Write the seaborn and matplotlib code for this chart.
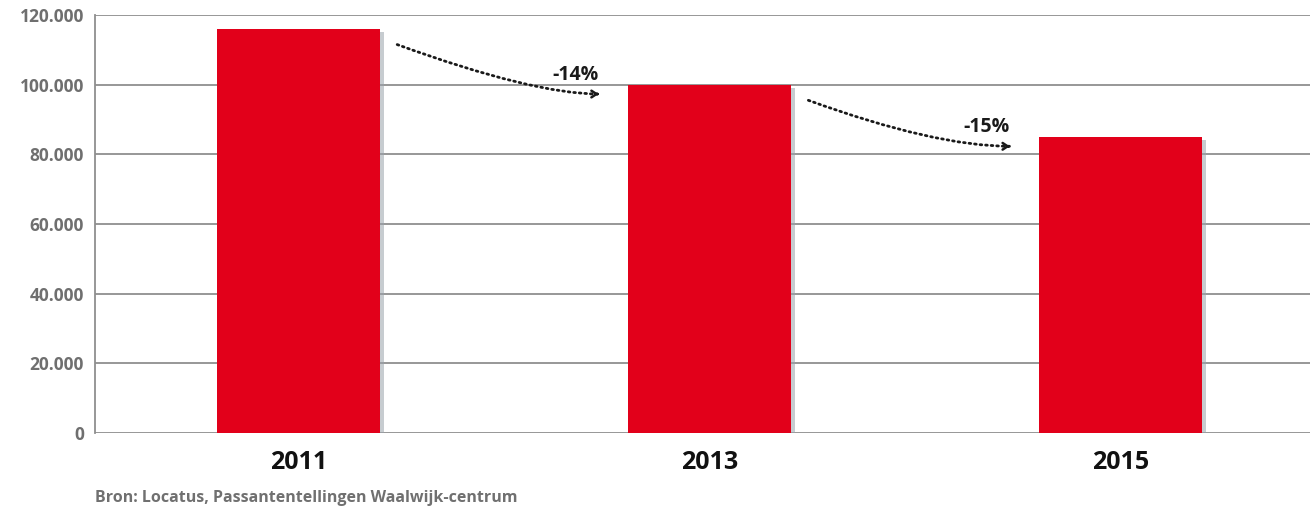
import matplotlib
matplotlib.use("Agg")
import matplotlib.pyplot as plt
import matplotlib.patheffects as pe
from matplotlib.ticker import FuncFormatter
import seaborn as sns
import pandas as pd

# Passantentellingen Waalwijk-centrum
years = ["2011", "2013", "2015"]
visitors = [116000, 100000, 85000]
y_ticks = [0, 20000, 40000, 60000, 80000, 100000, 120000]
source = "Bron: Locatus, Passantentellingen Waalwijk-centrum"

RED = "#E2001A"
GRID = "#8f8f8f"
TICK_GREY = "#6f6f6f"

sns.set_theme(style="white")
plt.rcParams["font.family"] = ["Open Sans", "DejaVu Sans"]

df = pd.DataFrame({"jaar": years, "passanten": visitors})

fig = plt.figure(figsize=(13.1, 5.07), dpi=100)
ax = fig.add_axes([0.0725, 0.146, 0.9275, 0.8245])

sns.barplot(data=df, x="jaar", y="passanten", color=RED, saturation=1,
            width=0.397, linewidth=0, edgecolor="none", ax=ax, zorder=3)

for bar in ax.patches:
    bar.set_path_effects([
        pe.SimplePatchShadow(offset=(2.5, -2.5), shadow_rgbFace="#9aa2aa", alpha=0.55),
        pe.Normal(),
    ])

ax.set_xlim(-0.495, 2.46)
ax.set_ylim(0, 120000)
ax.set_yticks(y_ticks)
ax.yaxis.set_major_formatter(FuncFormatter(lambda v, _: f"{int(v):,}".replace(",", ".")))

ax.grid(axis="y", color=GRID, linewidth=1.3, zorder=0)
ax.grid(axis="x", visible=False)
ax.set_axisbelow(True)

for side in ["top", "right", "bottom"]:
    ax.spines[side].set_visible(False)
ax.spines["left"].set_color(GRID)
ax.spines["left"].set_linewidth(1.3)

ax.tick_params(axis="y", length=0, pad=8, labelsize=12.5, labelcolor=TICK_GREY)
ax.tick_params(axis="x", length=0, pad=12, labelsize=18, labelcolor="#111111")
for lbl in ax.get_yticklabels():
    lbl.set_fontweight("bold")
for lbl in ax.get_xticklabels():
    lbl.set_fontweight("bold")

ax.set_xlabel("")
ax.set_ylabel("")

# Dotted curved arrows with the percentage change between counts
for i in range(len(visitors) - 1):
    start = (i + 0.24, visitors[i] - 4500)
    end = (i + 0.73, visitors[i + 1] - 2700)
    ax.annotate("", xy=end, xytext=start,
                arrowprops=dict(arrowstyle="-", color="#1a1a1a", lw=2.0,
                                linestyle=(0, (0.6, 1.4)),
                                connectionstyle="angle3,angleA=-20,angleB=0",
                                shrinkA=0, shrinkB=0),
                zorder=4)
    ax.annotate("", xy=end, xytext=(end[0] - 0.004, end[1]),
                arrowprops=dict(arrowstyle="->,head_length=0.3,head_width=0.2",
                                color="#1a1a1a", lw=1.8, shrinkA=0, shrinkB=0),
                zorder=4)
    change = round((visitors[i + 1] / visitors[i] - 1) * 100)
    ax.text(end[0], visitors[i + 1] + 1300, f"{change}%", ha="right",
            va="baseline", fontsize=14, fontweight="bold", color="#1a1a1a",
            zorder=5)

fig.text(95 / 1310, 1 - 498 / 507, source, ha="left", va="center",
         fontsize=11.5, fontweight="bold", color="#707070")

fig.savefig("out.png", dpi=100, facecolor="white")
